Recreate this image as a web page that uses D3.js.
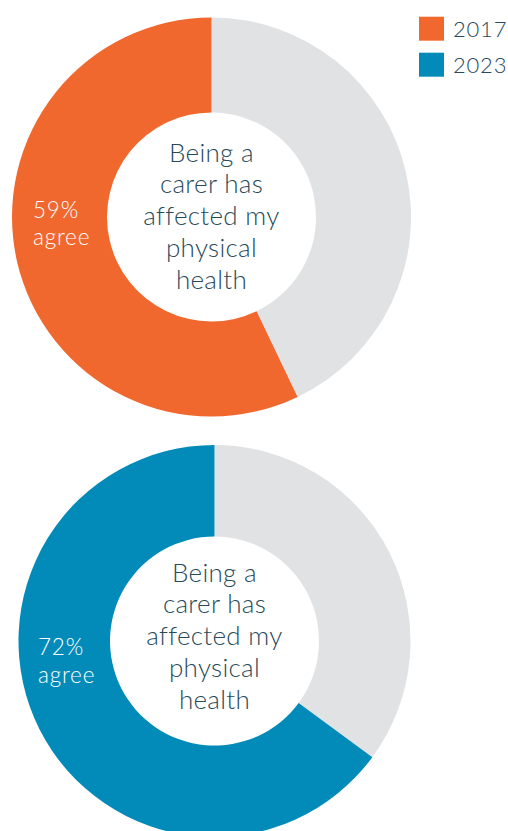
<!DOCTYPE html>
<html>
<head>
<meta charset="utf-8">
<script src="https://cdn.jsdelivr.net/npm/d3@7"></script>
<style>
  html, body { margin: 0; padding: 0; background: #fff; }
  svg { display: block; }
</style>
</head>
<body>
<svg id="chart" width="508" height="831"></svg>
<script>
// ---- data ----
const years = ["2017", "2023"];
const agreeLabels = [59, 72];          // percentages printed on the chart
const drawnAgreeShare = [57.1, 64.9];  // share of the ring drawn as "agree"
const centerLines = ["Being a", "carer has", "affected my", "physical", "health"];
const colors = ["#F1682F", "#028BB9"];
const restColor = "#E1E2E4";
const textColor = "#284A5A";
const FONT = "Lato, 'Open Sans', sans-serif";

// ---- layout ----
const svg = d3.select("#chart");
const donuts = [
  { cx: 211.5, cy: 217, R: 199.5, r: 104.5, labelX: 33, labelY: 217.5, textY: 161.7 },
  { cx: 214.5, cy: 641, R: 196, r: 104.5, labelX: 38, labelY: 655, textY: 581.7 }
];

const pie = d3.pie().sort(null).value(d => d.v);

years.forEach((yr, i) => {
  const cfg = donuts[i];
  const g = svg.append("g").attr("transform", `translate(${cfg.cx},${cfg.cy})`);
  const arc = d3.arc().innerRadius(cfg.r).outerRadius(cfg.R);
  const slices = [
    { k: "rest", v: 100 - drawnAgreeShare[i] },
    { k: "agree", v: drawnAgreeShare[i] }
  ];
  g.selectAll("path")
    .data(pie(slices))
    .join("path")
    .attr("d", arc)
    .attr("fill", d => d.data.k === "agree" ? colors[i] : restColor);

  // center text
  const t = svg.append("text")
    .attr("text-anchor", "middle")
    .attr("font-family", FONT)
    .attr("font-weight", 300)
    .attr("font-size", 26)
    .attr("letter-spacing", 0.3)
    .attr("fill", textColor);
  centerLines.forEach((line, j) => {
    t.append("tspan")
      .attr("x", cfg.cx)
      .attr("y", cfg.textY + j * 31.7)
      .text(line);
  });

  // agree label
  const l = svg.append("text")
    .attr("font-family", FONT)
    .attr("font-weight", 300)
    .attr("font-size", 22.5)
    .attr("letter-spacing", 0.8)
    .attr("fill", "#ffffff");
  l.append("tspan").attr("x", cfg.labelX).attr("y", cfg.labelY).text(agreeLabels[i] + "%");
  l.append("tspan").attr("x", cfg.labelX).attr("y", cfg.labelY + 27.5).text("agree");
});

// legend
const legend = svg.append("g");
years.forEach((yr, i) => {
  legend.append("rect")
    .attr("x", 419).attr("y", 16.7 + i * 36)
    .attr("width", 25).attr("height", 24)
    .attr("fill", colors[i]);
  legend.append("text")
    .attr("x", 453).attr("y", 37.3 + i * 36)
    .attr("font-family", FONT)
    .attr("font-weight", 300)
    .attr("font-size", 22)
    .attr("letter-spacing", 0.8)
    .attr("fill", textColor)
    .text(yr);
});
</script>
</body>
</html>
